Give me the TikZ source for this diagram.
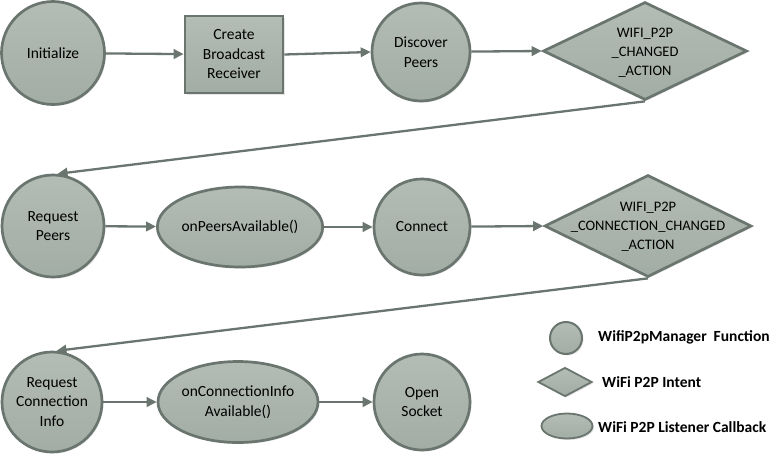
\documentclass[tikz,border=0pt]{standalone}
\usepackage{fontspec}
\setmainfont{Carlito}
\usetikzlibrary{shapes.geometric,arrows.meta,shadows}
\definecolor{nfill}{HTML}{A2ADA5}
\definecolor{nfilltop}{HTML}{B3BCB5}
\definecolor{nline}{HTML}{69756E}
\begin{document}
\begin{tikzpicture}[x=1pt,y=-1pt,
  base/.style={draw=nline,line width=2.7pt,top color=nfilltop,bottom color=nfill,
    drop shadow={shadow xshift=1.5pt,shadow yshift=-1.5pt,opacity=0.2},
    inner sep=0pt,align=center,font=\fontsize{15.5}{19.5}\selectfont},
  fcirc/.style={base,circle,minimum size=#1},
  fbox/.style={base,rectangle,minimum width=98pt,minimum height=77pt},
  fell/.style={base,ellipse},
  fdia/.style={base,diamond},
  txt/.style={inner sep=0pt,align=center,font=\fontsize{14.5}{19}\selectfont},
  leg/.style={anchor=west,inner sep=0pt,font=\fontsize{15.5}{18}\selectfont\bfseries},
  arr/.style={draw=nline,line width=2.3pt,-{Triangle[length=10pt,width=9.5pt]}}]
\useasboundingbox (0,0) rectangle (776,455);
% row 1
\node[fcirc=103pt] (init) at (53,53) {Initialize};
\node[fbox] (cbr) at (234,54.5) {Create\\Broadcast\\Receiver};
\node[fcirc=98pt] (disc) at (421,52) {Discover\\Peers};
\node[fdia,minimum width=204pt,minimum height=98pt] (d1) at (645,51) {};
\node[txt] (d1t) at (645,53) {WIFI\_P2P\\\_CHANGED\\\_ACTION};
% row 2
\node[fcirc=102pt] (rp) at (53,226) {Request\\Peers};
\node[fell,minimum width=156pt,minimum height=80pt] (opa) at (240,227) {onPeersAvailable()};
\node[fcirc=96pt] (conn) at (422,227) {Connect};
\node[fdia,minimum width=207pt,minimum height=102pt] (d2) at (648,226) {};
\node[txt] (d2t) at (648,227) {WIFI\_P2P\\\_CONNECTION\_CHANGED\\\_ACTION};
% row 3
\node[fcirc=100pt] (rci) at (52,402) {Request\\Connection\\Info};
\node[fell,minimum width=160pt,minimum height=81pt] (oca) at (238,402) {onConnectionInfo\\Available()};
\node[fcirc=96pt] (os) at (422,402) {Open\\Socket};
% legend
\node[fcirc=32pt,line width=2pt] (lc) at (566,338) {};
\node[leg] (lct) at (598,337) {WifiP2pManager\ \ Function};
\node[fdia,minimum width=54pt,minimum height=29pt,line width=1.8pt] (ld) at (565,382) {};
\node[leg] (ldt) at (602,382) {WiFi P2P Intent};
\node[fell,minimum width=51pt,minimum height=25pt,line width=1.8pt] (le) at (567,426) {};
\node[leg] (let) at (598,427) {WiFi P2P Listener Callback};
% arrows
\draw[arr] (init) -- (cbr);
\draw[arr] (cbr.east) -- (disc.west);
\draw[arr] (disc) -- (d1.west);
\draw[arr] (d1.south) -- (rp.85);
\draw[arr] (rp) -- (opa);
\draw[arr] (opa) -- (conn);
\draw[arr] (conn) -- (d2.west);
\draw[arr] (d2.south) -- (rci.85);
\draw[arr] (rci) -- (oca);
\draw[arr] (oca) -- (os);
\end{tikzpicture}
\end{document}
